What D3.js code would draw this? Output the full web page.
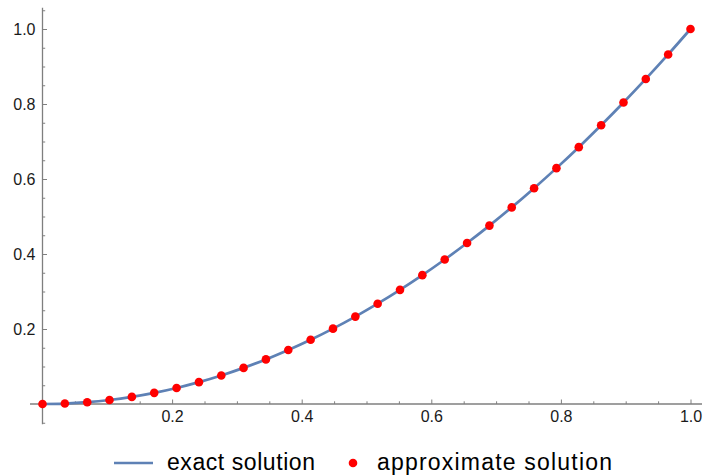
<!DOCTYPE html>
<html>
<head>
<meta charset="utf-8">
<script src="https://cdn.jsdelivr.net/npm/d3@7"></script>
<style>
  body { margin: 0; background: #fff; }
  svg text { font-family: "Liberation Sans", Arial, sans-serif; }
</style>
</head>
<body>
<script>
var width = 703;
var height = 476;

// sample points (x from 0 to 1, 30 samples)
var xs = [0, 0.0345, 0.0690, 0.1034, 0.1379, 0.1724, 0.2069, 0.2414, 0.2759, 0.3103,
  0.3448, 0.3793, 0.4138, 0.4483, 0.4828, 0.5172, 0.5517, 0.5862, 0.6207, 0.6552,
  0.6897, 0.7241, 0.7586, 0.7931, 0.8276, 0.8621, 0.8966, 0.9310, 0.9655, 1];
var exactY = [0, 0.0012, 0.0048, 0.0107, 0.0190, 0.0297, 0.0428, 0.0583, 0.0761, 0.0963,
  0.1189, 0.1439, 0.1712, 0.2010, 0.2331, 0.2675, 0.3044, 0.3436, 0.3853, 0.4293,
  0.4757, 0.5243, 0.5755, 0.6290, 0.6849, 0.7432, 0.8039, 0.8668, 0.9322, 1];
var approxY = [0, 0.0012, 0.0048, 0.0107, 0.0190, 0.0297, 0.0428, 0.0583, 0.0761, 0.0963,
  0.1189, 0.1439, 0.1712, 0.2010, 0.2331, 0.2675, 0.3044, 0.3436, 0.3853, 0.4293,
  0.4757, 0.5243, 0.5755, 0.6290, 0.6849, 0.7432, 0.8039, 0.8668, 0.9322, 1];

var xMajor = [0.2, 0.4, 0.6, 0.8, 1.0];
var xMinor = [0.05, 0.1, 0.15, 0.25, 0.3, 0.35, 0.45, 0.5, 0.55, 0.65, 0.7, 0.75, 0.85, 0.9, 0.95];
var yMajor = [0.2, 0.4, 0.6, 0.8, 1.0];
var yMinor = [-0.05, 0.05, 0.1, 0.15, 0.25, 0.3, 0.35, 0.45, 0.5, 0.55, 0.65, 0.7, 0.75, 0.85, 0.9, 0.95, 1.05];
var legendLabels = ['exact solution', 'approximate solution'];

var lineColor = '#5e81b5';
var dotColor = '#ff0000';
var axisColor = '#7f7f7f';
var fontFamily = '"Liberation Sans", Arial, sans-serif';

var x = d3.scaleLinear().domain([0, 1]).range([42.5, 690.5]);
var y = d3.scaleLinear().domain([0, 1]).range([404, 29]);

var svg = d3.select('body').append('svg')
  .attr('width', width)
  .attr('height', height)
  .style('display', 'block');

// axis lines (drawn a bit past the data range like the original)
svg.append('line')
  .attr('x1', 30).attr('x2', 702)
  .attr('y1', y(0)).attr('y2', y(0))
  .attr('stroke', axisColor).attr('stroke-width', 1.3);
svg.append('line')
  .attr('x1', x(0)).attr('x2', x(0))
  .attr('y1', y(1.057)).attr('y2', y(-0.054))
  .attr('stroke', axisColor).attr('stroke-width', 1.3);

function styleAxis(g) {
  g.attr('font-family', fontFamily).attr('font-size', 16);
  g.select('.domain').remove();
  g.selectAll('.tick line').attr('stroke', axisColor).attr('stroke-width', 1);
  g.selectAll('.tick text').attr('fill', '#1a1a1a');
}

svg.append('g')
  .attr('transform', 'translate(0,' + y(0) + ')')
  .call(d3.axisBottom(x).tickValues(xMajor).tickSize(-4.5).tickPadding(7)
    .tickFormat(d3.format('.1f')))
  .call(styleAxis);
svg.append('g')
  .attr('transform', 'translate(0,' + y(0) + ')')
  .call(d3.axisBottom(x).tickValues(xMinor).tickSize(-2.7).tickFormat(''))
  .call(styleAxis);

svg.append('g')
  .attr('transform', 'translate(' + x(0) + ',0)')
  .call(d3.axisLeft(y).tickValues(yMajor).tickSize(-4.5).tickPadding(7)
    .tickFormat(d3.format('.1f')))
  .call(styleAxis);
svg.append('g')
  .attr('transform', 'translate(' + x(0) + ',0)')
  .call(d3.axisLeft(y).tickValues(yMinor).tickSize(-2.7).tickFormat(''))
  .call(styleAxis);

// exact solution curve
var line = d3.line()
  .x(function(d, i) { return x(xs[i]); })
  .y(function(d) { return y(d); })
  .curve(d3.curveCatmullRom);

svg.append('path')
  .datum(exactY)
  .attr('d', line)
  .attr('fill', 'none')
  .attr('stroke', lineColor)
  .attr('stroke-width', 2.7);

// approximate solution points
svg.append('g').selectAll('circle')
  .data(approxY)
  .join('circle')
  .attr('cx', function(d, i) { return x(xs[i]); })
  .attr('cy', function(d) { return y(d); })
  .attr('r', 4.3)
  .attr('fill', dotColor);

// legend
var legend = svg.append('g')
  .attr('transform', 'translate(0,463)')
  .attr('font-family', fontFamily)
  .attr('font-size', 23);
legend.append('line')
  .attr('x1', 114).attr('x2', 153)
  .attr('y1', 0).attr('y2', 0)
  .attr('stroke', lineColor).attr('stroke-width', 2.7);
legend.append('text')
  .attr('x', 167).attr('y', 7)
  .attr('fill', '#000')
  .attr('textLength', 148)
  .text(legendLabels[0]);
legend.append('circle')
  .attr('cx', 353).attr('cy', 0).attr('r', 4.3)
  .attr('fill', dotColor);
legend.append('text')
  .attr('x', 377).attr('y', 7)
  .attr('fill', '#000')
  .attr('textLength', 235)
  .text(legendLabels[1]);
</script>
</body>
</html>
